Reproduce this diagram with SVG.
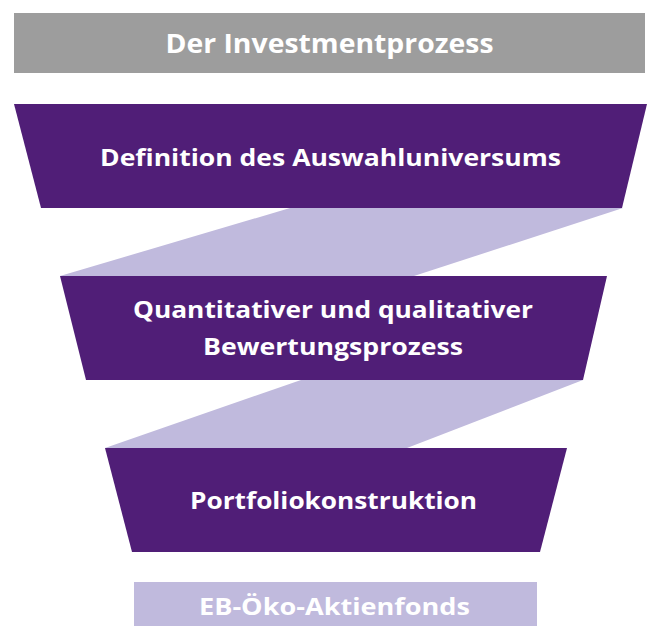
<svg xmlns="http://www.w3.org/2000/svg" width="652" height="626" viewBox="0 0 652 626">
<style>
.t{font-family:"Open Sans","Liberation Sans",sans-serif;font-weight:bold;fill:#ffffff;text-anchor:middle}
.p{fill:#501e77}
.l{fill:#c0badd}
</style>
<rect width="652" height="626" fill="#ffffff"/>
<g id="connectors">
<polygon class="l" points="290,208 623,208 414,276 60,276"/>
<polygon class="l" points="301,380 583,380 407,448 105,448"/>
</g>
<g id="header">
<rect x="14" y="13" width="631" height="60" fill="#9d9d9d"/>
<text class="t" x="329.5" y="53" font-size="27" textLength="328" lengthAdjust="spacingAndGlyphs">Der Investmentprozess</text>
</g>
<g id="step1">
<polygon class="p" points="14,104 647,104 622,208 41,208"/>
<text class="t" x="330.5" y="166" font-size="24" textLength="461" lengthAdjust="spacingAndGlyphs">Definition des Auswahluniversums</text>
</g>
<g id="step2">
<polygon class="p" points="60,276 607,276 583,380 86,380"/>
<text class="t" x="333" y="318" font-size="24" textLength="400" lengthAdjust="spacingAndGlyphs">Quantitativer und qualitativer</text>
<text class="t" x="333" y="355" font-size="24" textLength="260" lengthAdjust="spacingAndGlyphs">Bewertungsprozess</text>
</g>
<g id="step3">
<polygon class="p" points="105,448 567,448 540,552 132,552"/>
<text class="t" x="333.5" y="509" font-size="24" textLength="287" lengthAdjust="spacingAndGlyphs">Portfoliokonstruktion</text>
</g>
<g id="result">
<rect x="134" y="582" width="403" height="44" fill="#c0badd"/>
<text class="t" x="334.5" y="615" font-size="24" textLength="271" lengthAdjust="spacingAndGlyphs">EB-Öko-Aktienfonds</text>
</g>
</svg>
